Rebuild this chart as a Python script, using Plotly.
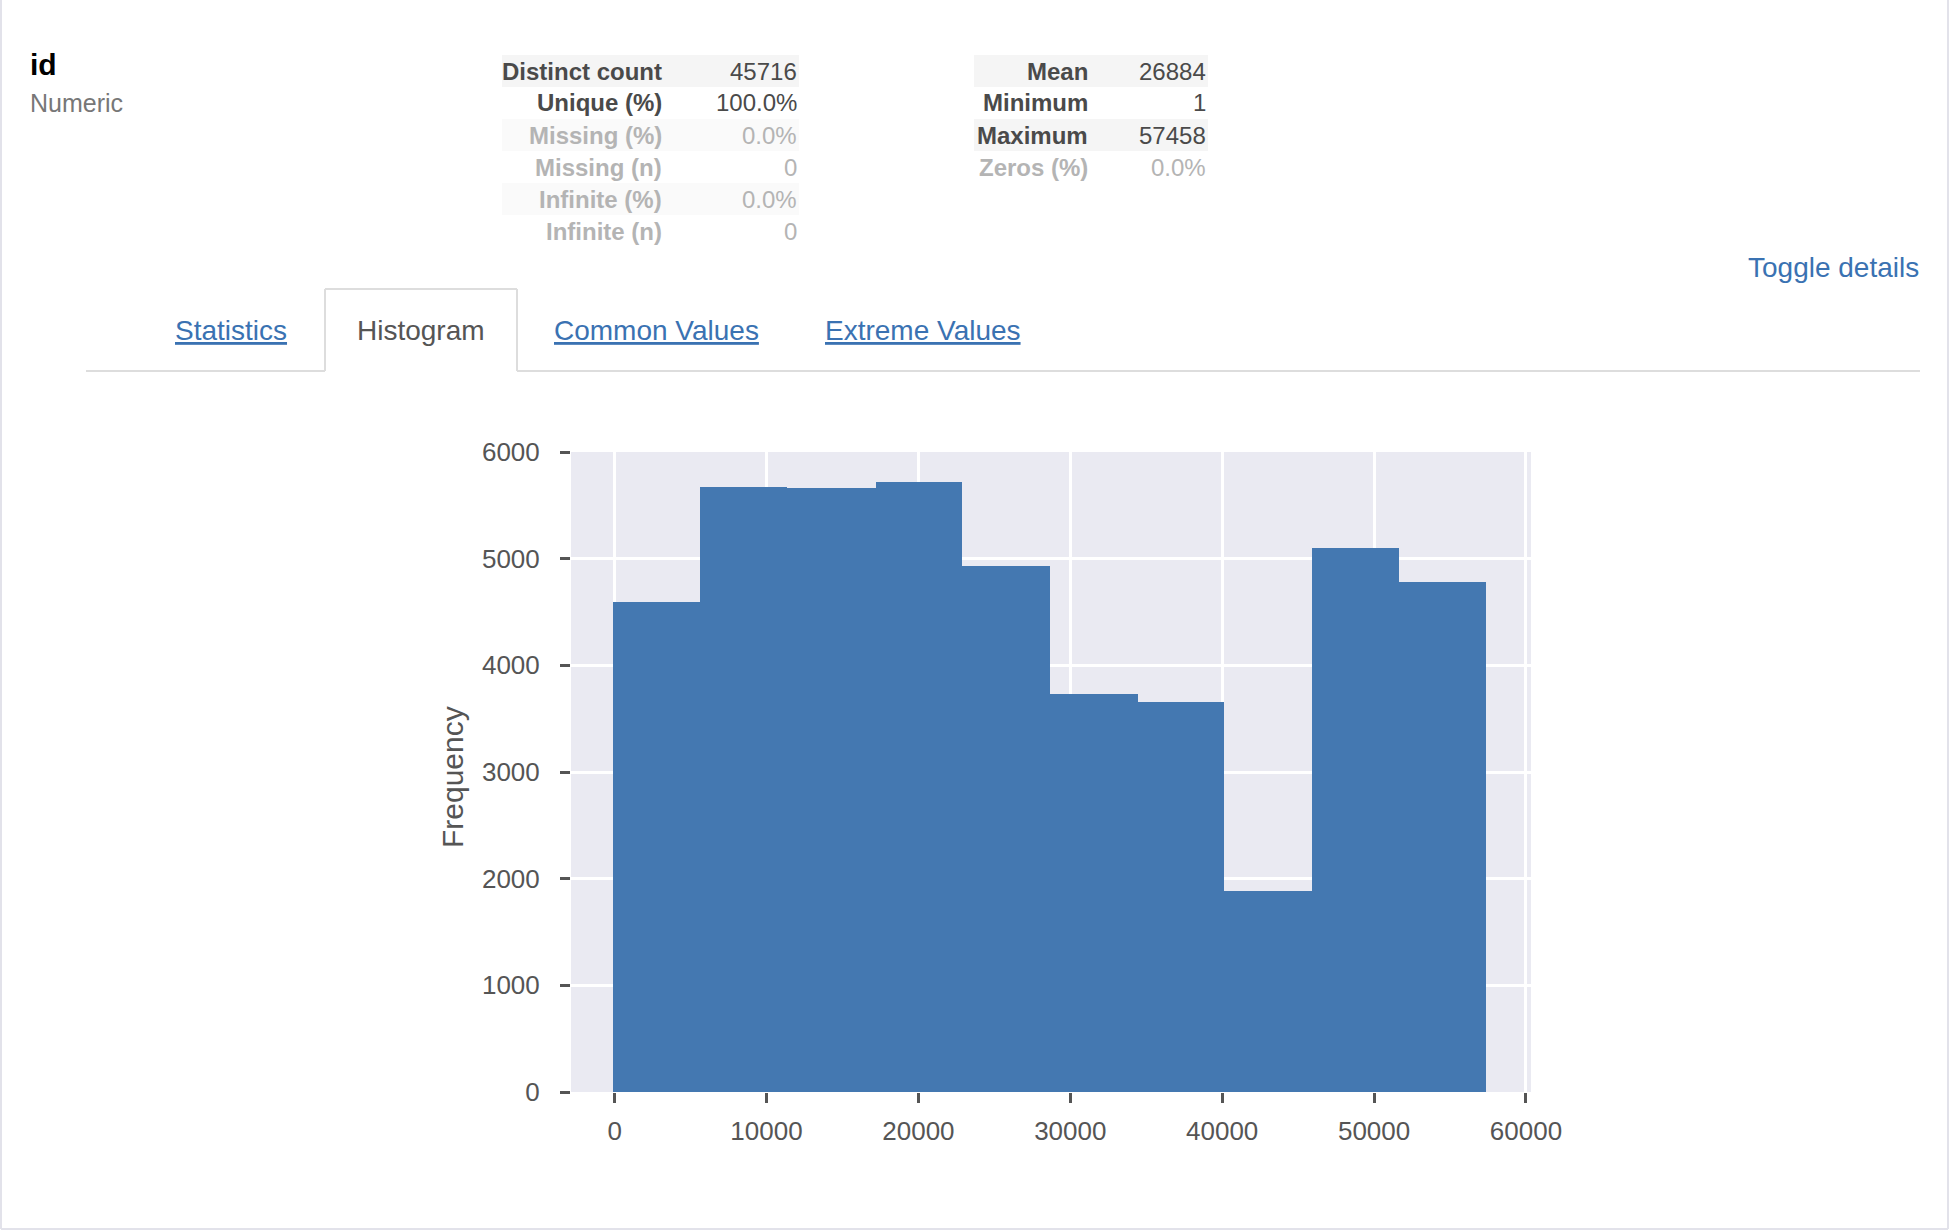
import plotly.graph_objects as go

# histogram of id
bin_edges = [-80, 5650, 11380, 17180, 22840, 28640, 34450, 40110, 45900, 51640, 57370]
bin_counts = [4592, 5676, 5658, 5715, 4935, 3735, 3655, 1880, 5098, 4783]
x_ticks = [0, 10000, 20000, 30000, 40000, 50000, 60000]
y_ticks = [0, 1000, 2000, 3000, 4000, 5000, 6000]

left_labels = ["Distinct count", "Unique (%)", "Missing (%)", "Missing (n)", "Infinite (%)", "Infinite (n)"]
left_values = ["45716", "100.0%", "0.0%", "0", "0.0%", "0"]
left_faded = [False, False, True, True, True, True]
right_labels = ["Mean", "Minimum", "Maximum", "Zeros (%)"]
right_values = ["26884", "1", "57458", "0.0%"]
right_faded = [False, False, False, True]

tab_names = ["Statistics", "Histogram", "Common Values", "Extreme Values"]
tab_centers = [231, 421, 656, 923]

PLOT_L, PLOT_R, PLOT_T, PLOT_B = 571, 1531, 452, 1092
DARK = "#4a4a4a"
FADED = "#b4b4b4"
LINK = "#3a72b2"
FONT = "Liberation Sans"


def px_x(v):
    return (v - PLOT_L) / (PLOT_R - PLOT_L)


def px_y(v):
    return (PLOT_B - v) / (PLOT_B - PLOT_T)


widths = [b - a for a, b in zip(bin_edges[:-1], bin_edges[1:])]

fig = go.Figure(go.Bar(
    x=bin_edges[:-1],
    y=bin_counts,
    width=widths,
    offset=0,
    marker=dict(color="#4478b1", line=dict(width=0)),
))


def add_text(x, y, text, size, color, anchor="left", angle=0):
    fig.add_annotation(
        x=px_x(x), y=px_y(y), xref="paper", yref="paper",
        text=text, showarrow=False, xanchor=anchor, yanchor="middle", textangle=angle,
        font=dict(family=FONT, size=size, color=color),
    )


def add_rect(x0, y0, x1, y1, fill=None, line=None, line_width=0):
    fig.add_shape(
        type="rect", xref="paper", yref="paper", layer="below",
        x0=px_x(x0), x1=px_x(x1), y0=px_y(y0), y1=px_y(y1),
        fillcolor=fill, line=dict(color=line, width=line_width),
    )


def add_line(x0, y0, x1, y1, color, width=2):
    fig.add_shape(
        type="line", xref="paper", yref="paper", layer="below",
        x0=px_x(x0), x1=px_x(x1), y0=px_y(y0), y1=px_y(y1),
        line=dict(color=color, width=width),
    )


def add_table(labels, values, faded, band_l, band_r, label_r, value_r):
    for i, (lab, val, fade) in enumerate(zip(labels, values, faded)):
        yc = 71 + i * 32
        if i % 2 == 0:
            add_rect(band_l, yc - 16, band_r, yc + 16, fill="#fafafa" if fade else "#f5f5f5")
        col = FADED if fade else DARK
        add_text(label_r, yc, "<b>" + lab + "</b>", 24, col, "right")
        add_text(value_r, yc, val, 24, col, "right")


# page furniture around the plot
add_text(28, 64, "<b>id</b>", 30, "#000000")
add_text(28, 103, "Numeric", 25, "#777777")
add_table(left_labels, left_values, left_faded, 502, 799, 664, 799)
add_table(right_labels, right_values, right_faded, 974, 1208, 1090, 1208)
add_text(1921, 268, "Toggle details", 28, LINK, "right")

add_line(86, 371, 325, 371, "#dddddd")
add_line(517, 371, 1920, 371, "#dddddd")
add_line(325, 371, 325, 289, "#dddddd")
add_line(325, 289, 517, 289, "#dddddd")
add_line(517, 289, 517, 371, "#dddddd")
for name, xc in zip(tab_names, tab_centers):
    if name == "Histogram":
        add_text(xc, 330, name, 28, "#555555", "center")
    else:
        add_text(xc, 330, "<u>" + name + "</u>", 28, LINK, "center")

# axis title placed by hand, the axis one sits a few pixels too high
add_text(452, 777, "Frequency", 30, "#555555", "center", -90)

# thin frame of the page
add_line(1, 0, 1, 1229, "#e2e2ea", 2)
add_line(1948, 0, 1948, 1229, "#e2e2ea", 2)
add_line(1, 1229, 1948, 1229, "#e2e2ea", 2)

fig.update_layout(
    width=1950,
    height=1232,
    margin=dict(l=PLOT_L, r=1950 - PLOT_R, t=PLOT_T, b=1232 - PLOT_B, autoexpand=False),
    paper_bgcolor="white",
    plot_bgcolor="#eaeaf2",
    bargap=0,
    showlegend=False,
    font=dict(family=FONT, size=26, color="#555555"),
    xaxis=dict(
        range=[-2872, 60331], tickvals=x_ticks, ticktext=[str(v) for v in x_ticks],
        ticks="outside", ticklen=10, tickwidth=2.5, tickcolor="#555555",
        gridcolor="white", gridwidth=3, zeroline=False, showline=False,
        ticklabelstandoff=6,
    ),
    yaxis=dict(
        range=[0, 6000], tickvals=y_ticks, ticktext=[str(v) for v in y_ticks],
        ticks="outside", ticklen=10, tickwidth=2.5, tickcolor="#555555",
        gridcolor="white", gridwidth=3, zeroline=False, showline=False,
        ticklabelstandoff=15,
    ),
)

fig.write_html(
    "out.html",
    config=dict(displayModeBar=False),
    post_script="document.body.style.margin='0';document.body.style.overflow='hidden';",
)
